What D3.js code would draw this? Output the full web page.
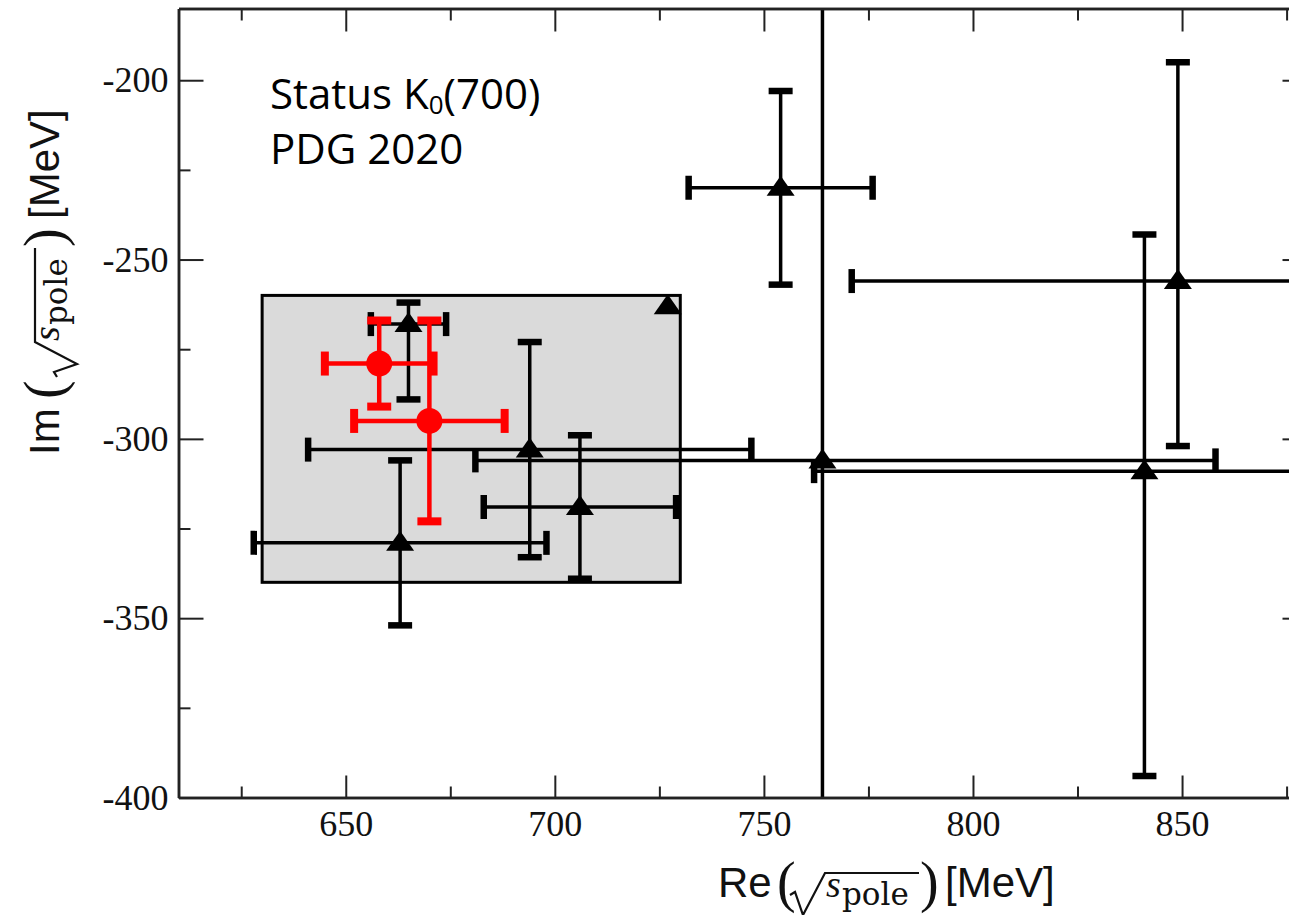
<!DOCTYPE html>
<html>
<head>
<meta charset="utf-8">
<script src="https://cdn.jsdelivr.net/npm/d3@7"></script>
<style>
  body { margin: 0; background: #fff; }
  svg { display: block; }
</style>
</head>
<body>
<div id="chart"></div>
<script>
const X_DOMAIN = [610, 880];
const Y_DOMAIN = [-400, -180];
const X_MAJOR = [650, 700, 750, 800, 850];
const X_MINOR = [625, 675, 725, 775, 825, 875];
const Y_MAJOR = [-400, -350, -300, -250, -200];
const Y_MINOR = [-375, -325, -275, -225];

// PDG 2020 estimate (grey band)
const BAND_RE = [630, 730];
const BAND_IM = [-340, -260];

// black triangles: pole position with errors (null = no bar)
const BLACK_RE    = [754, 694, 764, 841, 849, 663, 706, 665, 727];
const BLACK_RE_LO = [732, 641, 681, 762, 771, 628, 683, 656, null];
const BLACK_RE_HI = [776, 747, 858, 920, 927, 698, 729, 674, null];
const BLACK_IM    = [-230, -303, -306, -309, -256, -329, -319, -268, -263];
const BLACK_IM_LO = [-257, -333, -470, -394, -302, -352, -339, -289, null];
const BLACK_IM_HI = [-203, -273, -110, -243, -195, -306, -299, -262, null];

// red circles
const RED_RE    = [658, 670];
const RED_RE_LO = [645, 652];
const RED_RE_HI = [671, 688];
const RED_IM    = [-279, -295];
const RED_IM_LO = [-291, -323];
const RED_IM_HI = [-267, -267];

const W = 1289, H = 915;
const SANS = "'Liberation Sans', Arial, sans-serif";
const SERIF = "'Liberation Serif', 'Times New Roman', serif";

const x = d3.scaleLinear().domain(X_DOMAIN).range([178.5, 1307.5]);
const y = d3.scaleLinear().domain(Y_DOMAIN).range([797.5, 8.5]);

const svg = d3.select("#chart").append("svg")
  .attr("width", W)
  .attr("height", H)
  .attr("viewBox", `0 0 ${W} ${H}`);

svg.append("defs").append("clipPath").attr("id", "plot-clip")
  .append("rect")
  .attr("x", x.range()[0]).attr("y", y.range()[1])
  .attr("width", x.range()[1] - x.range()[0])
  .attr("height", y.range()[0] - y.range()[1]);

const plot = svg.append("g").attr("clip-path", "url(#plot-clip)");

// grey band
plot.append("rect")
  .attr("x", x(BAND_RE[0]))
  .attr("y", y(BAND_IM[1]))
  .attr("width", x(BAND_RE[1]) - x(BAND_RE[0]))
  .attr("height", y(BAND_IM[0]) - y(BAND_IM[1]))
  .attr("fill", "#dadada")
  .attr("stroke", "#000")
  .attr("stroke-width", 3);

function errorBars(g, re, reLo, reHi, im, imLo, imHi, color, lw, capW) {
  const rows = re.map((d, i) => ({
    re: d, reLo: reLo[i], reHi: reHi[i], im: im[i], imLo: imLo[i], imHi: imHi[i]
  }));
  const capHalf = 12;
  rows.forEach(d => {
    if (d.reLo != null) {
      g.append("line")
        .attr("x1", x(d.reLo)).attr("x2", x(d.reHi))
        .attr("y1", y(d.im)).attr("y2", y(d.im))
        .attr("stroke", color).attr("stroke-width", lw);
      [d.reLo, d.reHi].forEach(v => {
        g.append("line")
          .attr("x1", x(v)).attr("x2", x(v))
          .attr("y1", y(d.im) - capHalf).attr("y2", y(d.im) + capHalf)
          .attr("stroke", color).attr("stroke-width", capW);
      });
    }
    if (d.imLo != null) {
      g.append("line")
        .attr("x1", x(d.re)).attr("x2", x(d.re))
        .attr("y1", y(d.imLo)).attr("y2", y(d.imHi))
        .attr("stroke", color).attr("stroke-width", lw);
      [d.imLo, d.imHi].forEach(v => {
        g.append("line")
          .attr("x1", x(d.re) - capHalf).attr("x2", x(d.re) + capHalf)
          .attr("y1", y(v)).attr("y2", y(v))
          .attr("stroke", color).attr("stroke-width", capW);
      });
    }
  });
  return rows;
}

const blackG = plot.append("g");
const blackRows = errorBars(blackG, BLACK_RE, BLACK_RE_LO, BLACK_RE_HI,
  BLACK_IM, BLACK_IM_LO, BLACK_IM_HI, "#000", 3.5, 6.5);

blackG.selectAll("path.tri")
  .data(blackRows)
  .join("path")
  .attr("class", "tri")
  .attr("d", "M0,-12L14,8L-14,8Z")
  .attr("transform", d => `translate(${x(d.re)},${y(d.im)})`)
  .attr("fill", "#000");

const redG = plot.append("g");
const redRows = errorBars(redG, RED_RE, RED_RE_LO, RED_RE_HI,
  RED_IM, RED_IM_LO, RED_IM_HI, "#ff0000", 4.5, 8);

redG.selectAll("circle")
  .data(redRows)
  .join("circle")
  .attr("cx", d => x(d.re))
  .attr("cy", d => y(d.im))
  .attr("r", 13)
  .attr("fill", "#ff0000");

// axes (ticks pointing inward)
function styleAxis(g) {
  g.select(".domain").attr("stroke", "#222").attr("stroke-width", 2.5);
  g.selectAll(".tick line").attr("stroke", "#222").attr("stroke-width", 2);
  g.selectAll(".tick text")
    .attr("font-family", SERIF)
    .attr("font-size", 36)
    .attr("fill", "#111");
}

const fmt = d => String(d);   // plain hyphen, as in the original plot
const x0 = x.range()[0], x1 = x.range()[1];
const yb = y.range()[0], yt = y.range()[1];

svg.append("g").attr("transform", `translate(0,${yb})`)
  .call(d3.axisBottom(x).tickValues(X_MAJOR).tickSize(-22).tickSizeOuter(0).tickPadding(13).tickFormat(fmt))
  .call(styleAxis);
svg.append("g").attr("transform", `translate(0,${yb})`)
  .call(d3.axisBottom(x).tickValues(X_MINOR).tickSize(-11).tickSizeOuter(0).tickFormat(""))
  .call(styleAxis);
svg.append("g").attr("transform", `translate(0,${yt})`)
  .call(d3.axisTop(x).tickValues(X_MAJOR).tickSize(-23).tickSizeOuter(0).tickFormat(""))
  .call(styleAxis);
svg.append("g").attr("transform", `translate(0,${yt})`)
  .call(d3.axisTop(x).tickValues(X_MINOR).tickSize(-12).tickSizeOuter(0).tickFormat(""))
  .call(styleAxis);

svg.append("g").attr("transform", `translate(${x0},0)`)
  .call(d3.axisLeft(y).tickValues(Y_MAJOR).tickSize(-25).tickSizeOuter(0).tickPadding(10).tickFormat(fmt))
  .call(styleAxis);
svg.append("g").attr("transform", `translate(${x0},0)`)
  .call(d3.axisLeft(y).tickValues(Y_MINOR).tickSize(-12).tickSizeOuter(0).tickFormat(""))
  .call(styleAxis);
svg.append("g").attr("transform", `translate(${x1},0)`)
  .call(d3.axisRight(y).tickValues(Y_MAJOR).tickSize(-25).tickSizeOuter(0).tickFormat(""))
  .call(styleAxis);
svg.append("g").attr("transform", `translate(${x1},0)`)
  .call(d3.axisRight(y).tickValues(Y_MINOR).tickSize(-12).tickSizeOuter(0).tickFormat(""))
  .call(styleAxis);

// axis titles: Re(√s_pole) [MeV] and Im(√s_pole) [MeV]
function mathLabel(g, word, o) {
  g.append("text").attr("x", 0).attr("y", 0)
    .attr("font-family", SANS).attr("font-size", 42).attr("fill", "#111")
    .text(word);
  g.append("text").attr("x", o.open).attr("y", 4)
    .attr("font-family", SERIF).attr("font-size", 56).attr("fill", "#111")
    .text("(");
  g.append("path")
    .attr("d", `M${o.rad},-2 l5,-3 l8,23 L${o.bar},-24 H${o.close - 1}`)
    .attr("fill", "none").attr("stroke", "#111").attr("stroke-width", 2.2)
    .attr("stroke-linejoin", "miter");
  g.append("text").attr("x", o.s).attr("y", 0)
    .attr("font-family", SERIF).attr("font-style", "italic").attr("font-size", 38).attr("fill", "#111")
    .text("s");
  g.append("text").attr("x", o.pole).attr("y", 8)
    .attr("font-family", "'DejaVu Serif', serif").attr("font-size", 31).attr("fill", "#111")
    .text("pole");
  g.append("text").attr("x", o.close).attr("y", 4)
    .attr("font-family", SERIF).attr("font-size", 56).attr("fill", "#111")
    .text(")");
  g.append("text").attr("x", o.unit).attr("y", 0)
    .attr("font-family", SANS).attr("font-size", 42).attr("fill", "#111")
    .text("[MeV]");
}

mathLabel(svg.append("g").attr("transform", "translate(718,897)"), "Re",
  { open: 59, rad: 72, bar: 107, s: 108, pole: 124, close: 202, unit: 227 });

mathLabel(svg.append("g").attr("transform", "translate(59,455) rotate(-90)"), "Im",
  { open: 56, rad: 78, bar: 113, s: 114, pole: 130, close: 208, unit: 236 });

// annotation
const note = svg.append("g")
  .attr("font-family", "'Open Sans', 'Noto Sans', sans-serif")
  .attr("font-size", 42)
  .attr("fill", "#000");
const line1 = note.append("text").attr("x", 270).attr("y", 109);
line1.append("tspan").text("Status K");
line1.append("tspan").attr("font-size", 26).attr("dy", 5).text("0");
line1.append("tspan").attr("dy", -5).text("(700)");
note.append("text").attr("x", 270).attr("y", 164).text("PDG 2020");
</script>
</body>
</html>
